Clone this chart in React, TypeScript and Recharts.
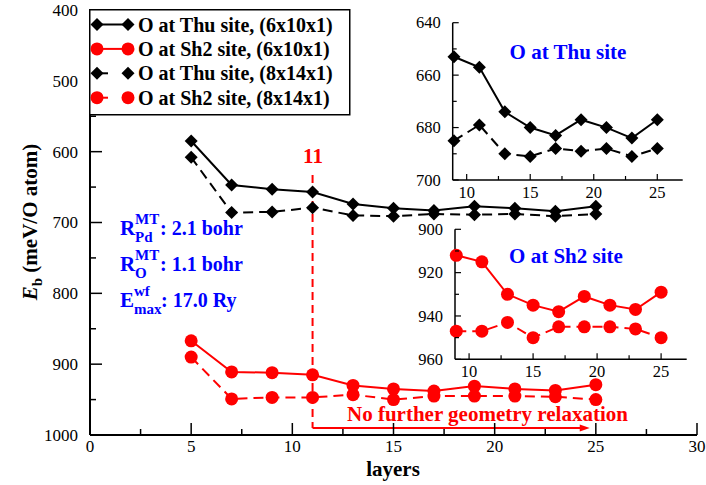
import React from "react";
import { LineChart, Line, XAxis, YAxis, Legend, ReferenceLine } from "recharts";

// layers in the slab, and binding energy E_b (meV/O atom)
const layers = [5, 7, 9, 11, 13, 15, 17, 19, 21, 23, 25];
const thu6x10 = [585, 647, 653, 657, 674, 680, 683, 677, 680, 684, 677];
const sh2_6x10 = [867, 911, 912, 915, 930, 935, 938, 931, 935, 937, 929];
const thu8x14 = [608, 686, 685, 679, 690, 691, 688, 689, 688, 691, 688];
const sh2_8x14 = [890, 949, 947, 947, 943, 950, 945, 945, 945, 946, 950];

const seriesNames = [
  "O at Thu site, (6x10x1)",
  "O at Sh2 site, (6x10x1)",
  "O at Thu site, (8x14x1)",
  "O at Sh2 site, (8x14x1)",
];

const mainXTicks = [0, 2.5, 5, 7.5, 10, 12.5, 15, 17.5, 20, 22.5, 25, 27.5, 30];
const mainYTicks = [400, 450, 500, 550, 600, 650, 700, 750, 800, 850, 900, 950, 1000];
const insetXTicks = [10, 12.5, 15, 17.5, 20, 22.5, 25];
const thuYTicks = [640, 650, 660, 670, 680, 690, 700];
const sh2YTicks = [900, 910, 920, 930, 940, 950, 960];

// layer 11: geometry fixed from here on
const fixedFrom = 11;
const fixedTo = 24.7;

const data = layers.map((l, i) => ({
  layer: l,
  thuA: thu6x10[i],
  sh2A: sh2_6x10[i],
  thuB: thu8x14[i],
  sh2B: sh2_8x14[i],
}));
const insetData = data.filter((d) => d.layer >= 9);

const FONT = '"Liberation Serif", "Times New Roman", serif';
const RED = "#ff0000";
const BLUE = "#0000ff";
const DASH = "10 6";

function Diamond(props: any) {
  const { cx, cy } = props;
  if (cx == null || cy == null) return null;
  const s = 6.5;
  return <path d={`M${cx},${cy - s} L${cx + s},${cy} L${cx},${cy + s} L${cx - s},${cy} Z`} fill="#000" />;
}

// inward ticks on every side, labels only on bottom / left
function AxisTick(props: any) {
  const { x, y, payload, side, every, big, small, gap, fs, labels, sw } = props;
  const v = payload.value;
  const major = Math.abs(v / every - Math.round(v / every)) < 1e-6;
  const len = major ? big : small;
  let p = [x, y, x, y];
  let lb = null;
  const txt = { fontFamily: FONT, fontSize: fs, fill: "#000" };
  if (side === "bottom") {
    p = [x, y, x, y - len];
    if (labels && major) lb = <text x={x} y={y + gap} textAnchor="middle" fontFamily={FONT} style={txt}>{v}</text>;
  } else if (side === "top") {
    p = [x, y, x, y + len];
  } else if (side === "left") {
    p = [x, y, x + len, y];
    if (labels && major) lb = <text x={x - gap} y={y} dy="0.35em" textAnchor="end" fontFamily={FONT} style={txt}>{v}</text>;
  } else {
    p = [x, y, x - len, y];
  }
  return (
    <g>
      <line x1={p[0]} y1={p[1]} x2={p[2]} y2={p[3]} stroke="#000" strokeWidth={sw} />
      {lb}
    </g>
  );
}

function ArrowShape(props: any) {
  const { x1, y1, x2, y2 } = props;
  return (
    <g>
      <line x1={x1} y1={y1} x2={x2 - 6} y2={y2} stroke={RED} strokeWidth={2} />
      <path d={`M${x2},${y2} L${x2 - 10},${y2 - 3.5} L${x2 - 10},${y2 + 3.5} Z`} fill={RED} />
    </g>
  );
}

function LegendBox() {
  return (
    <svg width={262} height={107} style={{ display: "block" }}>
      <rect x={0.75} y={0.75} width={260} height={105} fill="#fff" stroke="#000" strokeWidth={1.5} />
      {seriesNames.map((name, i) => {
        const cy = 15.5 + i * 24.4;
        const red = i % 2 === 1;
        const dashed = i >= 2;
        const col = red ? RED : "#000";
        return (
          <g key={name}>
            <line x1={8} y1={cy} x2={39} y2={cy} stroke={col} strokeWidth={2} strokeDasharray={dashed ? "11 20" : undefined} />
            {red ? (
              <>
                <circle cx={8} cy={cy} r={6.5} fill={RED} />
                <circle cx={39} cy={cy} r={6.5} fill={RED} />
              </>
            ) : (
              <>
                <Diamond cx={8} cy={cy} />
                <Diamond cx={39} cy={cy} />
              </>
            )}
            <text x={49} y={cy + 7} fontFamily={FONT} style={{ fontFamily: FONT, fontSize: 20, fontWeight: 700 }}>{name}</text>
          </g>
        );
      })}
    </svg>
  );
}

function Inset(props: any) {
  const { left, top, width, height, mTop, mRight, yWidth, xHeight, yDomain, yTicks, solidKey, dashKey, red } = props;
  const col = red ? RED : "#000";
  const dot = red ? { r: 6.5, fill: RED, stroke: "none" } : <Diamond />;
  const tk = { every: 20, big: 6, small: 4, gap: 12, fs: 16.5, sw: 1.2 };
  const tkx = { every: 5, big: 6, small: 4, gap: 17.5, fs: 16.5, sw: 1.2 };
  const axis = { stroke: "#000", strokeWidth: 1.5 };
  return (
    <div style={{ position: "absolute", left, top }}>
      <LineChart width={width} height={height} data={insetData} margin={{ top: mTop, right: mRight, bottom: 0, left: 0 }}>
        <XAxis xAxisId="b" dataKey="layer" type="number" domain={[8.9, 27]} ticks={insetXTicks} interval={0}
          height={xHeight} tickSize={0} tickMargin={0} tickLine={false} axisLine={axis}
          tick={<AxisTick side="bottom" labels {...tkx} />} />
        <XAxis xAxisId="t" orientation="top" dataKey="layer" type="number" domain={[8.9, 27]} ticks={insetXTicks} interval={0}
          height={0} tickSize={0} tickMargin={0} tickLine={false} axisLine={axis}
          tick={<AxisTick side="top" {...tkx} />} />
        <YAxis yAxisId="l" type="number" domain={yDomain} reversed ticks={yTicks} interval={0}
          width={yWidth} tickSize={0} tickMargin={0} tickLine={false} axisLine={axis}
          tick={<AxisTick side="left" labels {...tk} />} />
        <YAxis yAxisId="r" orientation="right" type="number" domain={yDomain} reversed ticks={yTicks} interval={0}
          width={0} tickSize={0} tickMargin={0} tickLine={false} axisLine={axis}
          tick={<AxisTick side="right" {...tk} />} />
        <Line xAxisId="b" yAxisId="l" dataKey={solidKey} stroke={col} strokeWidth={2} dot={dot} isAnimationActive={false} />
        <Line xAxisId="b" yAxisId="l" dataKey={dashKey} stroke={col} strokeWidth={2} strokeDasharray={DASH} dot={dot} isAnimationActive={false} />
      </LineChart>
    </div>
  );
}

export default function App() {
  const axis = { stroke: "#000", strokeWidth: 2 };
  const tkx = { every: 5, big: 12, small: 6, gap: 17, fs: 17, sw: 1.5 };
  const tky = { every: 100, big: 12, small: 6, gap: 12, fs: 17, sw: 1.5 };
  const big = { fontFamily: FONT, fontSize: 21, fontWeight: 700 };
  const sub = { fontSize: 15 };
  return (
    <div style={{ position: "absolute", left: 0, top: 0, width: 706, height: 485, background: "#fff", fontFamily: FONT }}>
      <LineChart width={706} height={485} data={data} margin={{ top: 10, right: 9, bottom: 0, left: 0 }}>
        <XAxis xAxisId="b" dataKey="layer" type="number" domain={[0, 30]} ticks={mainXTicks} interval={0}
          height={50} tickSize={0} tickMargin={0} tickLine={false} axisLine={axis}
          tick={<AxisTick side="bottom" labels {...tkx} />} />
        <XAxis xAxisId="t" orientation="top" dataKey="layer" type="number" domain={[0, 30]} ticks={mainXTicks} interval={0}
          height={0} tickSize={0} tickMargin={0} tickLine={false} axisLine={axis}
          tick={<AxisTick side="top" {...tkx} />} />
        <YAxis yAxisId="l" type="number" domain={[400, 1000]} reversed ticks={mainYTicks} interval={0}
          width={90} tickSize={0} tickMargin={0} tickLine={false} axisLine={axis}
          tick={<AxisTick side="left" labels {...tky} />} />
        <YAxis yAxisId="r" orientation="right" type="number" domain={[400, 1000]} reversed ticks={mainYTicks} interval={0}
          width={0} tickSize={0} tickMargin={0} tickLine={false} axisLine={axis}
          tick={<AxisTick side="right" {...tky} />} />
        <ReferenceLine xAxisId="b" yAxisId="l" segment={[{ x: fixedFrom, y: 633 }, { x: fixedFrom, y: 990 }]}
          stroke={RED} strokeWidth={2} strokeDasharray="8 5" />
        <ReferenceLine xAxisId="b" yAxisId="l" segment={[{ x: fixedFrom, y: 990 }, { x: fixedTo, y: 990 }]}
          shape={ArrowShape} />
        <Line xAxisId="b" yAxisId="l" dataKey="thuA" name={seriesNames[0]} stroke="#000" strokeWidth={2} dot={<Diamond />} isAnimationActive={false} />
        <Line xAxisId="b" yAxisId="l" dataKey="sh2A" name={seriesNames[1]} stroke={RED} strokeWidth={2} dot={{ r: 6.5, fill: RED, stroke: "none" }} isAnimationActive={false} />
        <Line xAxisId="b" yAxisId="l" dataKey="thuB" name={seriesNames[2]} stroke="#000" strokeWidth={2} strokeDasharray={DASH} dot={<Diamond />} isAnimationActive={false} />
        <Line xAxisId="b" yAxisId="l" dataKey="sh2B" name={seriesNames[3]} stroke={RED} strokeWidth={2} strokeDasharray={DASH} dot={{ r: 6.5, fill: RED, stroke: "none" }} isAnimationActive={false} />
        <Legend layout="horizontal" verticalAlign="middle" align="center"
          wrapperStyle={{ left: 89, top: 9, width: 262, height: 107 }} content={() => <LegendBox />} />
      </LineChart>

      <Inset left={400} top={0} width={290} height={210} mTop={22.7} mRight={7.3} yWidth={52.7} xHeight={30}
        yDomain={[640, 700]} yTicks={thuYTicks} solidKey="thuA" dashKey="thuB" red={false} />
      <Inset left={400} top={215} width={295} height={175} mTop={14.3} mRight={8.3} yWidth={55} xHeight={30.7}
        yDomain={[900, 960]} yTicks={sh2YTicks} solidKey="sh2A" dashKey="sh2B" red />

      <svg width={706} height={485} fontFamily={FONT} style={{ position: "absolute", left: 0, top: 0, pointerEvents: "none" }}>
        <text transform="translate(37,222) rotate(-90)" textAnchor="middle" style={big}>
          <tspan fontStyle="italic">E</tspan>
          <tspan dy={5} style={sub}>b</tspan>
          <tspan dy={-5}> (meV/O atom)</tspan>
        </text>
        <text x={393} y={476} textAnchor="middle" style={big}>layers</text>

        <text x={313} y={163} textAnchor="middle" style={{ ...big, fill: RED }}>11</text>
        <text x={347} y={421} style={{ ...big, fill: RED }}>No further geometry relaxation</text>

        <g style={{ ...big, fontSize: 20, fill: BLUE }}>
          <text x={120} y={235}>
            <tspan fontSize={21}>R</tspan>
            <tspan x={135} y={224} style={sub}>MT</tspan>
            <tspan x={135} y={242} style={sub}>Pd</tspan>
            <tspan x={160} y={235}>: 2.1 bohr</tspan>
          </text>
          <text x={120} y={271}>
            <tspan fontSize={21}>R</tspan>
            <tspan x={135} y={260} style={sub}>MT</tspan>
            <tspan x={135} y={278} style={sub}>O</tspan>
            <tspan x={160} y={271}>: 1.1 bohr</tspan>
          </text>
          <text x={120} y={307}>
            <tspan fontSize={21}>E</tspan>
            <tspan x={134} y={296} style={sub}>wf</tspan>
            <tspan x={134} y={314} style={sub}>max</tspan>
            <tspan x={161} y={307}>: 17.0 Ry</tspan>
          </text>
        </g>

        <text x={568} y={59} textAnchor="middle" style={{ ...big, fill: BLUE }}>O at Thu site</text>
        <text x={566} y={263} textAnchor="middle" style={{ ...big, fill: BLUE }}>O at Sh2 site</text>
      </svg>
    </div>
  );
}
